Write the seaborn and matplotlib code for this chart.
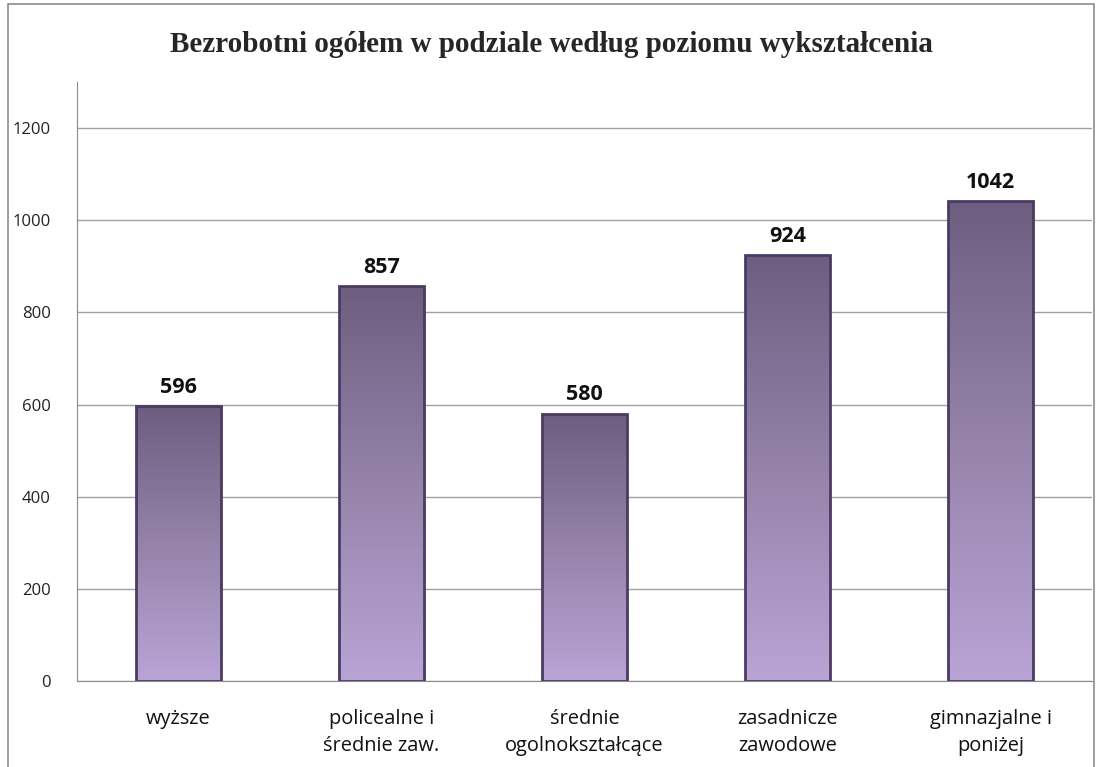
import numpy as np
import pandas as pd
import matplotlib
matplotlib.use("Agg")
import matplotlib.pyplot as plt
import seaborn as sns
from matplotlib.colors import LinearSegmentedColormap

kategorie = ["wyższe", "policealne i\nśrednie zaw.", "średnie\nogolnokształcące",
             "zasadnicze\nzawodowe", "gimnazjalne i\nponiżej"]
bezrobotni = [596, 857, 580, 924, 1042]
y_ticks = [0, 200, 400, 600, 800, 1000, 1200]

df = pd.DataFrame({"Poziom": kategorie, "Liczba": bezrobotni})

sns.set_style("white")
plt.rcParams["font.family"] = ["Open Sans", "DejaVu Sans"]

fig = plt.figure(figsize=(11.02, 7.67), dpi=100)
ax = fig.add_axes([77 / 1102, 1 - 681 / 767, 1015 / 1102, 599 / 767])

sns.barplot(data=df, x="Poziom", y="Liczba", ax=ax, width=0.42,
            color="#9a86b4", edgecolor="#4b3b63", linewidth=2, zorder=3)

# gradient fill inside the bars
cmap = LinearSegmentedColormap.from_list("fiolet", ["#6d5e80", "#9583aa", "#b9a4d6"])
grad = np.linspace(0, 1, 256).reshape(-1, 1)
for p in ax.patches:
    x0, y0 = p.get_x(), p.get_y()
    w, h = p.get_width(), p.get_height()
    im = ax.imshow(grad, extent=[x0, x0 + w, y0, y0 + h], aspect="auto",
                   cmap=cmap, origin="upper", zorder=3.5)
    im.set_clip_path(p)
    p.set_facecolor("none")
    p.set_zorder(4)
    ax.text(x0 + w / 2, h + 18, str(int(h)), ha="center", va="bottom",
            fontsize=15.5, fontweight="bold", color="#111111", zorder=5)

ax.set_xlim(-0.5, len(kategorie) - 0.5)
ax.set_ylim(0, 1300)
ax.set_yticks(y_ticks)
ax.yaxis.grid(True, color="#a0a0a0", linewidth=1)
ax.set_axisbelow(True)
ax.set_xlabel("")
ax.set_ylabel("")
ax.tick_params(axis="y", labelsize=12, colors="#222222", length=0, pad=19)
ax.tick_params(axis="x", labelsize=14.4, colors="#111111", length=0, pad=20)
for lbl in ax.get_xticklabels():
    lbl.set_linespacing(1.5)
for s in ["top", "right"]:
    ax.spines[s].set_visible(False)
ax.spines["left"].set_color("#8c8c8c")
ax.spines["bottom"].set_color("#8c8c8c")

fig.text(0.5, 1 - 44 / 767, "Bezrobotni ogółem w podziale według poziomu wykształcenia",
         ha="center", va="center", fontsize=21, fontweight="bold",
         family=["Liberation Serif", "DejaVu Serif"])

# outer chart frame
fig.patches.append(plt.Rectangle((8 / 1102, -0.01), 1 - 16 / 1102, 1.005,
                                 transform=fig.transFigure, fill=False,
                                 edgecolor="#8c8c8c", linewidth=1.2))

fig.savefig("out.png", dpi=100)
